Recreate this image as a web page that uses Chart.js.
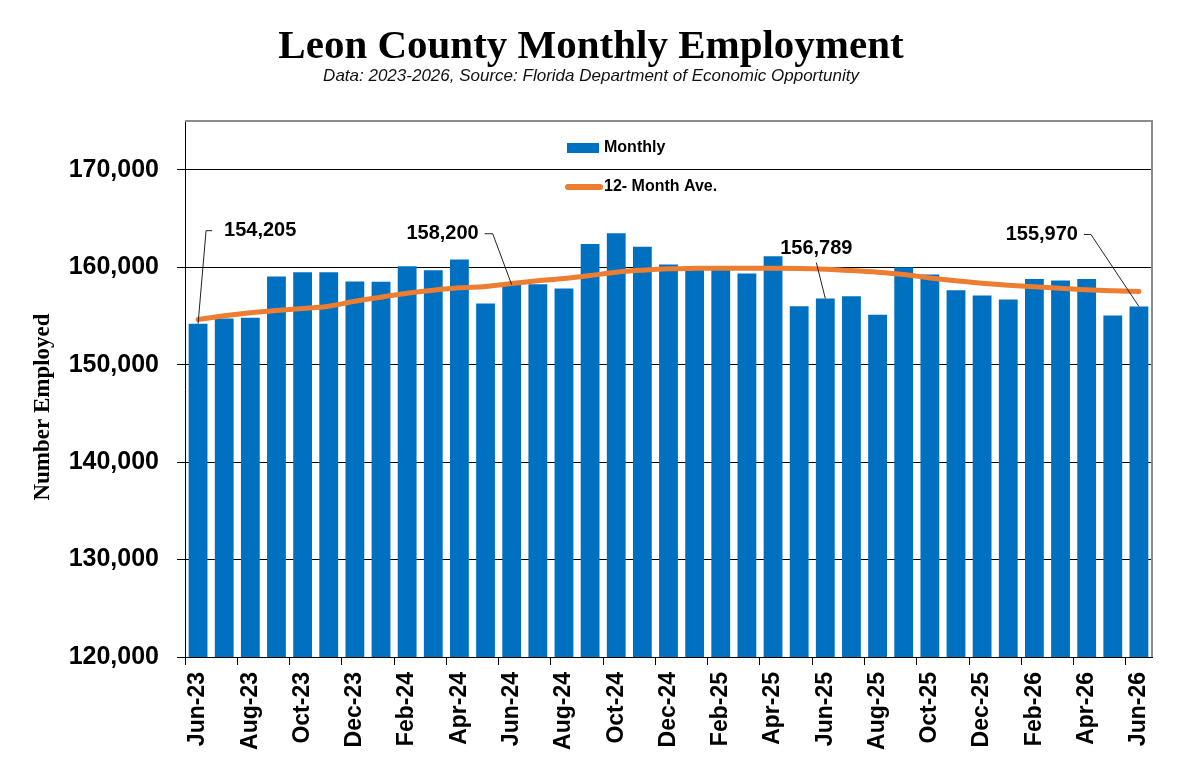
<!DOCTYPE html>
<html>
<head>
<meta charset="utf-8">
<script src="https://cdn.jsdelivr.net/npm/chart.js@4.4.1/dist/chart.umd.min.js"></script>
<style>
  html, body { margin: 0; padding: 0; background: #ffffff; }
  #wrap { width: 1198px; height: 780px; }
</style>
</head>
<body>
<div id="wrap"><canvas id="c" width="1198" height="780"></canvas></div>
<script>
// ---------- DATA ----------
const months = ['Jun-23','Jul-23','Aug-23','Sep-23','Oct-23','Nov-23','Dec-23','Jan-24','Feb-24','Mar-24','Apr-24','May-24',
                'Jun-24','Jul-24','Aug-24','Sep-24','Oct-24','Nov-24','Dec-24','Jan-25','Feb-25','Mar-25','Apr-25','May-25',
                'Jun-25','Jul-25','Aug-25','Sep-25','Oct-25','Nov-25','Dec-25','Jan-26','Feb-26','Mar-26','Apr-26','May-26','Jun-26'];
const monthly = [154205, 154735, 154800, 159040, 159490, 159490, 158530, 158500, 160100, 159690, 160790, 156270,
                 158200, 158260, 157810, 162390, 163490, 162085, 160270, 160100, 159950, 159350, 161130, 156000,
                 156789, 157030, 155110, 160000, 159250, 157640, 157095, 156690, 158800, 158630, 158800, 155040, 155970];
const movingAvg = [154630, 155010, 155320, 155560, 155760, 156000, 156510, 156920, 157330, 157640, 157880, 158020,
                   158325, 158600, 158840, 159145, 159490, 159690, 159830, 159880, 159900, 159900, 159890, 159870,
                   159795, 159660, 159490, 159250, 158900, 158600, 158360, 158150, 157980, 157850, 157675, 157570, 157500];
const yTicks = [120000, 130000, 140000, 150000, 160000, 170000];
const calloutMonths = ['Jun-23', 'Jun-24', 'Jun-25', 'Jun-26'];
const yAxisTitle = 'Number Employed';

// ---------- STYLE / LAYOUT (not data) ----------
const BLUE = '#0070C0';
const ORANGE = '#ED7D31';
const calloutStyle = {
  'Jun-23': { elbowDx: 8,   elbowY: -93, armDx: 6,   align: 'left',  textGap: 12 },
  'Jun-24': { elbowDx: -19, elbowY: -51, armDx: -8,  align: 'right', textGap: 6 },
  'Jun-25': { elbowDx: -9,  elbowY: -36, armDx: 0,   align: 'center', textGap: 0 },
  'Jun-26': { elbowDx: -48, elbowY: -72, armDx: -7,  align: 'right', textGap: 6 }
};
const fmt = v => v.toLocaleString('en-US');

const framePlugin = {
  id: 'frame',
  beforeDatasetsDraw(chart) {
    const {ctx, chartArea: a} = chart;
    ctx.save();
    ctx.strokeStyle = '#8c8c8c';
    ctx.lineWidth = 2;
    ctx.beginPath();
    ctx.moveTo(a.left, a.top);
    ctx.lineTo(a.right, a.top);
    ctx.lineTo(a.right, a.bottom);
    ctx.stroke();
    ctx.restore();
  }
};

const yTitlePlugin = {
  id: 'yTitle',
  afterDraw(chart) {
    const {ctx} = chart;
    ctx.save();
    ctx.translate(43, 407);
    ctx.rotate(-Math.PI / 2);
    ctx.font = 'bold 23px "Liberation Serif", "Times New Roman", serif';
    ctx.fillStyle = '#000';
    ctx.textAlign = 'center';
    ctx.textBaseline = 'middle';
    ctx.fillText(yAxisTitle, 0, 0);
    ctx.restore();
  }
};

const legendPlugin = {
  id: 'customLegend',
  afterDatasetsDraw(chart) {
    const {ctx, chartArea: a} = chart;
    const x0 = a.left + 382;
    ctx.save();
    ctx.font = 'bold 16px "Liberation Sans", Arial, sans-serif';
    ctx.textBaseline = 'middle';
    ctx.fillStyle = chart.data.datasets[1].backgroundColor;
    ctx.fillRect(x0, a.top + 22, 32, 10);
    ctx.fillStyle = '#000';
    ctx.fillText(chart.data.datasets[1].label, x0 + 37, a.top + 27);
    ctx.strokeStyle = chart.data.datasets[0].borderColor;
    ctx.lineWidth = 6;
    ctx.lineCap = 'round';
    ctx.beginPath();
    ctx.moveTo(x0 + 1, a.top + 66);
    ctx.lineTo(x0 + 33, a.top + 66);
    ctx.stroke();
    ctx.fillText(chart.data.datasets[0].label, x0 + 37, a.top + 66);
    ctx.restore();
  }
};

const calloutPlugin = {
  id: 'callouts',
  afterDatasetsDraw(chart) {
    const {ctx} = chart;
    const xs = chart.scales.x, ys = chart.scales.y;
    ctx.save();
    ctx.font = 'bold 20px "Liberation Sans", Arial, sans-serif';
    ctx.textBaseline = 'middle';
    ctx.strokeStyle = '#222';
    ctx.lineWidth = 1;
    calloutMonths.forEach(m => {
      const i = months.indexOf(m);
      const s = calloutStyle[m];
      const px = xs.getPixelForValue(i);
      const py = ys.getPixelForValue(monthly[i]);
      const ex = px + s.elbowDx, ey = py + s.elbowY;
      const ax = ex + s.armDx;
      ctx.beginPath();
      ctx.moveTo(px, py);
      ctx.lineTo(ex, ey);
      ctx.lineTo(ax, ey);
      ctx.stroke();
      ctx.fillStyle = '#000';
      ctx.textAlign = s.align;
      let tx = ax, ty = ey;
      if (s.align === 'left') tx = ax + s.textGap;
      else if (s.align === 'right') tx = ax - s.textGap;
      else { ty = ey - 14; }
      ctx.fillText(fmt(monthly[i]), tx, ty);
    });
    ctx.restore();
  }
};

new Chart(document.getElementById('c'), {
  data: {
    labels: months,
    datasets: [
      {
        type: 'line',
        label: '12- Month Ave.',
        data: movingAvg,
        borderColor: ORANGE,
        borderWidth: 5,
        pointRadius: 0,
        cubicInterpolationMode: 'monotone',
        borderCapStyle: 'round',
        order: 0
      },
      {
        type: 'bar',
        label: 'Monthly',
        data: monthly,
        backgroundColor: BLUE,
        borderWidth: 0,
        categoryPercentage: 1.0,
        barPercentage: 0.72,
        order: 1
      }
    ]
  },
  options: {
    responsive: false,
    animation: false,
    devicePixelRatio: 1,
    layout: { padding: { left: 30, right: 46, top: 0, bottom: 0 } },
    plugins: {
      legend: { display: false },
      tooltip: { enabled: false },
      title: {
        display: true,
        text: 'Leon County Monthly Employment',
        color: '#000',
        font: { family: '"Liberation Serif", "Times New Roman", serif', size: 41, weight: 'bold', lineHeight: 1.0 },
        padding: { top: 27, bottom: 0 }
      },
      subtitle: {
        display: true,
        text: 'Data: 2023-2026, Source: Florida Department of Economic Opportunity',
        color: '#111',
        font: { family: '"Liberation Sans", Arial, sans-serif', size: 17, style: 'italic', lineHeight: 1.0 },
        padding: { top: 0, bottom: 36 }
      }
    },
    scales: {
      x: {
        type: 'category',
        offset: true,
        grid: {
          offset: true,
          drawOnChartArea: false,
          drawTicks: true,
          tickLength: 8,
          color: c => (c.index % 2 === 0 && c.index < months.length) ? '#000' : 'rgba(0,0,0,0)'
        },
        border: { display: true, color: '#000', width: 1 },
        ticks: {
          autoSkip: false,
          maxRotation: 90,
          minRotation: 90,
          padding: 7,
          color: '#000',
          font: { family: '"Liberation Sans", Arial, sans-serif', size: 23, weight: 'bold' },
          callback: function (v, i) { return i % 2 === 0 ? months[i] : ''; }
        },
        afterFit: s => { s.height = 123; }
      },
      y: {
        type: 'linear',
        min: 120000,
        max: 175000,
        afterBuildTicks: s => { s.ticks = yTicks.map(v => ({ value: v })); },
        grid: { color: '#000', lineWidth: 1, drawTicks: true, tickLength: 8 },
        border: { display: true, color: '#000', width: 1 },
        ticks: {
          padding: 18,
          color: '#000',
          font: { family: '"Liberation Sans", Arial, sans-serif', size: 25, weight: 'bold' },
          callback: v => fmt(v)
        },
        title: { display: false },
        afterFit: s => { s.width = 155; }
      }
    }
  },
  plugins: [framePlugin, legendPlugin, calloutPlugin, yTitlePlugin]
});
</script>
</body>
</html>
